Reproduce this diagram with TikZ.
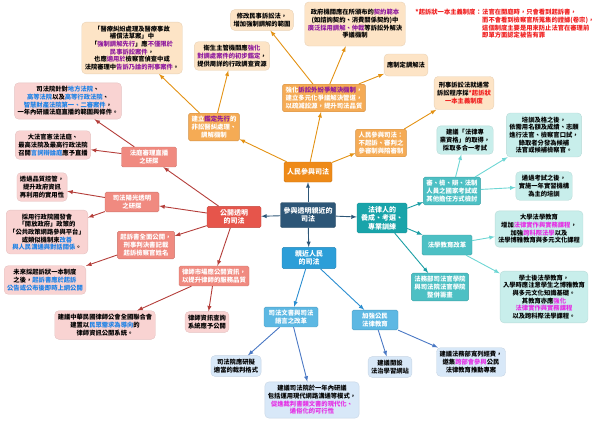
\documentclass[tikz,border=0pt]{standalone}
\usepackage{fontspec}
\setmainfont{Noto Sans CJK TC}
\usetikzlibrary{arrows,positioning}
\definecolor{rootblue}{HTML}{2D5677}
\definecolor{pplmain}{HTML}{EE8A18}
\definecolor{pplmid}{HTML}{F5AB55}
\definecolor{pplleaf}{HTML}{FDE4C6}
\definecolor{pplarrow}{HTML}{E39214}
\definecolor{openmain}{HTML}{E6554B}
\definecolor{openmid}{HTML}{F08A80}
\definecolor{openleaf}{HTML}{F9D3D2}
\definecolor{openarrow}{HTML}{B43E3A}
\definecolor{trainmain}{HTML}{19A4AA}
\definecolor{trainmid}{HTML}{4DC0C4}
\definecolor{trainleaf}{HTML}{C8EEEB}
\definecolor{trainarrow}{HTML}{1A9EA4}
\definecolor{trainarrowb}{HTML}{6ED6D4}
\definecolor{nearmain}{HTML}{2C9ED8}
\definecolor{nearmid}{HTML}{5DB8E3}
\definecolor{nearleaf}{HTML}{D8E8F8}
\definecolor{neararrow}{HTML}{2A8DD0}
\definecolor{neararrowb}{HTML}{4A78C4}
\definecolor{hpurple}{HTML}{8E1A9E}
\definecolor{hblue}{HTML}{1E82E6}
\definecolor{hmag}{HTML}{E52FE5}
\definecolor{hred}{HTML}{F01E1E}
\newcommand{\hlpurple}[1]{\textcolor{hpurple}{#1}}
\newcommand{\hlblue}[1]{\textcolor{hblue}{#1}}
\newcommand{\hlmag}[1]{\textcolor{hmag}{#1}}
\newcommand{\hlred}[1]{\textcolor{hred}{#1}}

\tikzset{
  every node/.style={align=center},
  rootbox/.style={fill=rootblue, draw=rootblue!80!black, text=white, rounded corners=1.5pt,
    inner sep=3pt, minimum width=55pt, minimum height=25pt, font=\bfseries\fontsize{7}{8.6}\selectfont},
  mainbox/.style={draw=#1!85!black, fill=#1, text=white, rounded corners=1.5pt,
    inner sep=3pt, minimum height=20pt, font=\bfseries\fontsize{7}{8.6}\selectfont},
  midbox/.style={draw=#1!85!black, fill=#1, text=white, rounded corners=1.5pt,
    inner sep=3pt, font=\bfseries\fontsize{6.4}{7.7}\selectfont},
  leafbox/.style={draw=#1!92!black, fill=#1, text=black, rounded corners=4pt,
    inner xsep=3pt, inner ysep=3.5pt, font=\bfseries\fontsize{6.3}{7.7}\selectfont},
  link/.style={->, draw=#1, line width=0.9pt}
}

\begin{document}
\begin{tikzpicture}[x=1pt,y=-1pt,>=latex]
\useasboundingbox (0,0) rectangle (600,424);

\node[rootbox] (root) at (308,215) {參與透明親近的\\司法};
\node[mainbox=pplmain] (ppl) at (308,172) {人民參與司法};
\node[mainbox=openmain, minimum width=54pt] (open) at (234,217) {公開透明\\的司法};
\node[mainbox=trainmain, minimum width=50pt] (train) at (382,218) {法律人的\\養成、考選、\\專業訓練};
\node[mainbox=nearmain, minimum width=54pt] (near) at (309,258) {親近人民\\的司法};

\draw[link=rootblue] (root) -- (ppl);
\draw[link=rootblue] (root) -- (open);
\draw[link=rootblue] (root) -- (train);
\draw[link=rootblue] (root) -- (near);

% people
\node[midbox=pplmid] (o1) at (214,127) {建立\hlpurple{鑑定先行}的\\非訟醫糾處理、\\調解機制};
\node[midbox=pplmid] (o2) at (324,98) {強化\hlpurple{訴訟外紛爭解決機制}，\\建立多元化爭議解決管道，\\以疏減訟源，提升司法品質};
\node[midbox=pplmid] (o3) at (381,143) {人民參與司法：\\不起訴、審判之\\參審制與陪審制};
\node[leafbox=pplleaf, minimum height=50pt] (o11) at (132,48) {「醫療糾紛處理及醫療事故\\補償法草案」中\\「\hlpurple{強制調解先行}」應\hlpurple{不僅限於}\\\hlpurple{民事訴訟案件}，\\也應\hlpurple{適用於}檢察官偵查中或\\法院審理中\hlpurple{告訴乃論的刑事案件}。};
\node[leafbox=pplleaf] (o12) at (232,56) {衛生主管機關應\hlpurple{強化}\\\hlpurple{對調處案件的初步鑑定}，\\提供周詳的行政調查資源};
\node[leafbox=pplleaf] (o21) at (262,20) {修改民事訴訟法，\\增加強制調解的範圍};
\node[leafbox=pplleaf, minimum height=44pt] (o22) at (355,24) {政府機關應在所頒布的\hlpurple{契約範本}\\(如諮詢契約、消費關係契約)中\\\hlpurple{廣泛採用調解、仲裁}等訴訟外解決\\爭議機制};
\node[leafbox=pplleaf, minimum height=22pt] (o23) at (406,65) {應制定調解法};
\node[leafbox=pplleaf, minimum height=33pt] (o31) at (464,93) {刑事訴訟法就通常\\訴訟程序採\hlred{*起訴狀}\\\hlred{一本主義制度}};
\node[anchor=north east, inner sep=0pt, text=hred, font=\bfseries\fontsize{6.3}{7.7}\selectfont] (notehead) at (482,9) {*起訴狀一本主義制度：};
\node[anchor=north west, align=left, inner sep=0pt, text=hred, font=\bfseries\fontsize{6.3}{7.7}\selectfont] (notebody) at (482,9) {法官在開庭時，只會看到起訴書，\\而不會看到檢察官所蒐集的證據(卷宗)，\\這個制度主要是用來防止法官在審理前\\即單方面認定被告有罪};

\draw[link=pplarrow] (ppl) -- (o1);
\draw[link=pplarrow] (ppl) -- (o2);
\draw[link=pplarrow] (ppl) -- (o3);
\draw[link=pplarrow] (o1) -- (o11);
\draw[link=pplarrow] (o1) -- (o12);
\draw[link=pplarrow] (o2) -- (o21);
\draw[link=pplarrow] (o2) -- (o22);
\draw[link=pplarrow] (o2) -- (o23);
\draw[link=pplarrow] (o3) -- (o31);

% open
\node[midbox=openmid, minimum width=55pt] (r1) at (149,157) {法庭審理直播\\之研探};
\node[midbox=openmid, minimum width=54pt] (r2) at (132,202) {司法陽光透明\\之研探};
\node[midbox=openmid] (r3) at (146,245) {起訴書全面公開，\\刑事判決書記載\\起訴檢察官姓名};
\node[midbox=openmid] (r4) at (214,276) {律師市場應公開資訊，\\以提升律師的服務品質};
\node[leafbox=openleaf] (r11) at (68,101) {司法院針對\hlblue{地方法院}、\\\hlblue{高等法院}以及\hlblue{高等行政法院}、\\\hlblue{智慧財產法院第一、二審案件}，\\一年內研議法庭直播的範圍與條件。};
\node[leafbox=openleaf] (r12) at (53,145) {大法官憲法法庭、\\最高法院及最高行政法院\\召開\hlblue{言詞辯論庭}應予直播};
\node[leafbox=openleaf] (r21) at (42,187) {透過品質控管，\\提升政府資訊\\再利用的實用性};
\node[leafbox=openleaf] (r22) at (47,232) {採用行政院國發會\\「開放政府」政策的\\「公共政策網路參與平台」\\或類似機制來\hlblue{改善}\\\hlblue{與人民溝通與對話關係}。};
\node[leafbox=openleaf] (r31) at (45,280) {未來採起訴狀一本制度\\之後，\hlblue{起訴書應於起訴}\\\hlblue{公告或公布後即時上網公開}};
\node[leafbox=openleaf] (r41) at (105,325) {建議中華民國律師公會全國聯合會\\建置以\hlblue{民眾需求為導向}的\\律師資訊公開系統。};
\node[leafbox=openleaf] (r42) at (207,322) {律師資訊查詢\\系統應予公開};

\draw[link=openarrow] (open) -- (r1);
\draw[link=openarrow] (open) -- (r2);
\draw[link=openarrow] (open) -- (r3);
\draw[link=openarrow] (open) -- (r4);
\draw[link=openarrow] (r1) -- (r11);
\draw[link=openarrow] (r1) -- (r12);
\draw[link=openarrow] (r2) -- (r21);
\draw[link=openarrow] (r2) -- (r22);
\draw[link=openarrow] (r3) -- (r31);
\draw[link=openarrow] (r4) -- (r41);
\draw[link=openarrow] (r4) -- (r42);

% training
\node[midbox=trainmid] (t1) at (452,191) {審、檢、辯、法制\\人員之國家考試或\\其他擔任方式檢討};
\node[midbox=trainmid, minimum width=50pt, minimum height=20pt] (t2) at (447,245) {法學教育改革};
\node[midbox=trainmid] (t3) at (440,287) {法務部司法官學院\\與司法院法官學院\\整併籌畫};
\node[leafbox=trainleaf] (t11) at (465,140) {建議「法律專\\業資格」的取得，\\採取多合一考試};
\node[leafbox=trainleaf] (t12) at (544,135) {培訓及格之後，\\依需用名額及成績、志願\\進行法官、檢察官口試，\\錄取者分發為候補\\法官或候補檢察官。};
\node[leafbox=trainleaf] (t13) at (544,186) {通過考試之後，\\實施一年實習機構\\為主的培訓};
\node[leafbox=trainleaf] (t21) at (539,229) {大學法學教育\\增加\hlmag{法律實作與實務課程}，\\加強\hlmag{跨科際法學}以及\\法學博雅教育與多元文化課程};
\node[leafbox=trainleaf] (t22) at (544,297) {學士後法學教育，\\入學時應注意學生之博雅教育\\與多元文化知識基礎。\\其教育亦應\hlmag{強化}\\\hlmag{法律實作與實務課程}\\以及跨科際法學課程。};

\draw[link=trainarrow] (train) -- (t1);
\draw[link=trainarrow] (train) -- (t2);
\draw[link=trainarrow] (train) -- (t3);
\draw[link=trainarrowb] (t1) -- (t11);
\draw[link=trainarrowb] (t1) -- (t12);
\draw[link=trainarrowb] (t1) -- (t13);
\draw[link=trainarrowb] (t2) -- (t21);
\draw[link=trainarrowb] (t2) -- (t22);

% near
\node[midbox=nearmid, minimum width=54pt] (b1) at (291,317) {司法文書與司法\\語言之改革};
\node[midbox=nearmid, minimum width=46pt] (b2) at (375,320) {加強公民\\法律教育};
\node[leafbox=nearleaf] (b11) at (236,366) {司法院應研擬\\適當的裁判格式};
\node[leafbox=nearleaf] (b12) at (312,400) {建議司法院於一年內研議\\包括運用現代網路溝通等模式，\\\hlmag{促進裁判書類文書的現代化、}\\\hlmag{通俗化的可行性}};
\node[leafbox=nearleaf] (b21) at (390,367) {建議開設\\法治學習網站};
\node[leafbox=nearleaf] (b22) at (471,362) {建議法務部寬列經費，\\邀集\hlmag{跨部會參與}公民\\法律教育推動專案};

\draw[link=neararrow] (near) -- (b1);
\draw[link=neararrow] (near) -- (b2);
\draw[link=neararrowb] (b1) -- (b11);
\draw[link=neararrowb] (b1) -- (b12);
\draw[link=neararrowb] (b2) -- (b21);
\draw[link=neararrowb] (b2) -- (b22);
\end{tikzpicture}
\end{document}
